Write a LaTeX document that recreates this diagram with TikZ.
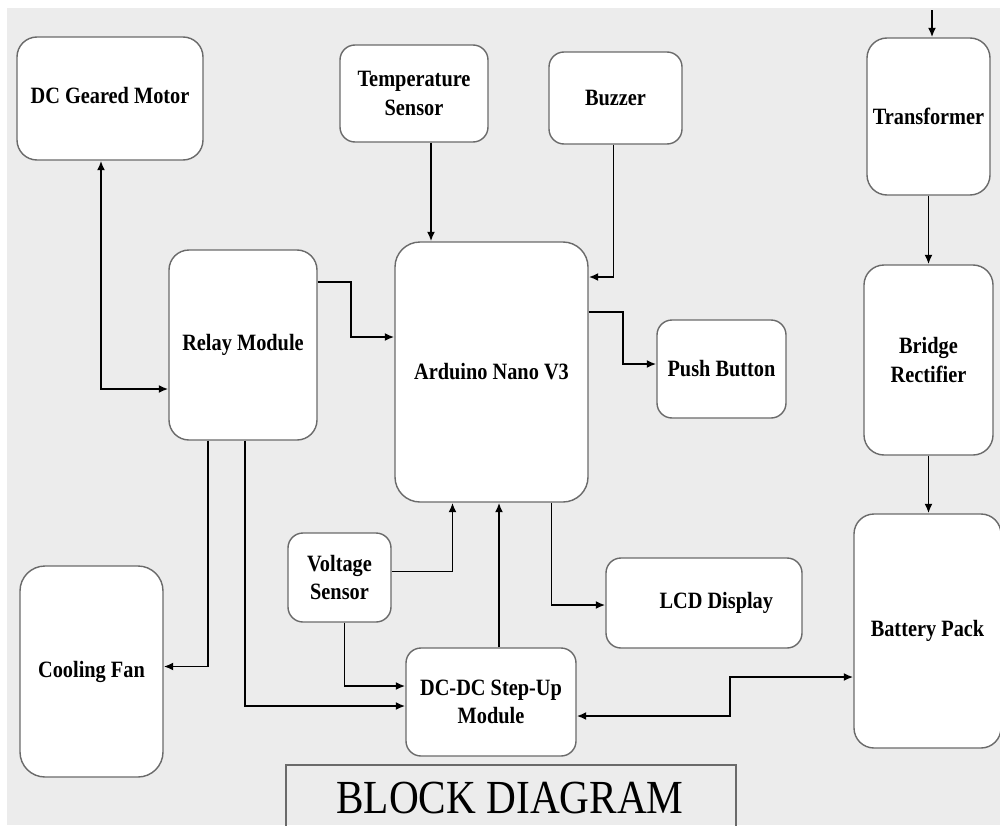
\documentclass[tikz,border=0pt]{standalone}
\usepackage{fontspec}
\setmainfont[FakeStretch=0.87]{Liberation Serif}
\usetikzlibrary{arrows.meta,calc}
\definecolor{bggray}{HTML}{ECECEC}
\definecolor{edgegray}{HTML}{6A6A6A}
\tikzset{
	blk/.style 2 args={draw=edgegray,line width=0.8pt,fill=white,rounded corners=4mm,align=center,
		font=\fontsize{13.3}{16}\selectfont\bfseries,inner sep=1pt,
		minimum width=#1*0.2mm,minimum height=#2*0.2mm},
	sblk/.style 2 args={blk={#1}{#2},rounded corners=3mm},
	wire/.style={line width=1.1pt,-{Latex[length=1.9mm,width=1.6mm]}},
	wire2/.style={line width=1.1pt,{Latex[length=1.9mm,width=1.6mm]}-{Latex[length=1.9mm,width=1.6mm]}}
}

\begin{document}
\begin{tikzpicture}[x=0.2mm,y=-0.2mm]
	\useasboundingbox (0,0) rectangle (1000,825);
	\fill[white] (0,0) rectangle (1000,825);
	\fill[bggray] (7,8) rectangle (1000,825);

	\node [blk={186}{123}] (motor) at (110,98.5) {\raisebox{1.2mm}{DC Geared Motor}};
	\node [sblk={148}{97}] (temp) at (414,93.5) {Temperature\\Sensor};
	\node [sblk={133}{92}] (buzzer) at (615.5,98) {Buzzer};
	\node [blk={123}{157}] (trans) at (928.5,116.5) {Transformer};
	\node [blk={148}{190}] (relay) at (243,345) {Relay Module};
	\node [blk={193}{260},rounded corners=5mm] (arduino) at (491.5,372) {Arduino Nano V3};
	\node [sblk={129}{98}] (push) at (721.5,369) {Push Button};
	\node [blk={129}{190}] (bridge) at (928.5,360) {Bridge\\Rectifier};
	\node [blk={147}{234}] (battery) at (927.5,631) {Battery Pack};
	\node [sblk={103}{89}] (voltage) at (339.5,577.5) {Voltage\\Sensor};
	\node [blk={143}{211},rounded corners=5mm] (fan) at (91.5,671.5) {Cooling Fan};
	\node [sblk={170}{108}] (dcdc) at (491,702) {DC-DC Step-Up\\Module};
	\node [sblk={196}{90}] (lcd) at (704,603) {\hspace*{14pt}LCD Display};

	\node [font=\fontsize{27}{30}\selectfont] (title) at (510,798) {BLOCK DIAGRAM};
	\draw[edgegray,line width=0.8pt] (286,830) -- (286,765) -- (736,765) -- (736,830);

	\coordinate (acin) at (932,10);
	\draw[wire] (acin) -- (acin |- trans.north);
	\draw[wire] (trans.south) -- (bridge.north);
	\draw[wire] (bridge.south) -- (bridge.south |- battery.north);

	\draw[wire2] ($(motor.south)+(-9,0)$) |- ($(relay.west)+(0,44)$);
	\draw[wire] ($(temp.south)+(17,0)$) coordinate (t) -- (t |- arduino.north);
	\draw[wire] ($(buzzer.south)+(-2,0)$) |- ($(arduino.east)+(0,-95)$);
	\draw[wire] ($(relay.east)+(0,-63)$) -- ++(33,0) |- ($(arduino.west)+(0,-35)$);
	\draw[wire] ($(arduino.east)+(0,-60)$) -- ++(34,0) |- ($(push.west)+(0,-5)$);
	\draw[wire] ($(relay.south)+(-35,0)$) |- ($(fan.east)+(0,-5)$);
	\draw[wire] ($(relay.south)+(2,0)$) |- ($(dcdc.west)+(0,4)$);
	\draw[wire] ($(voltage.east)+(0,-6)$) -| ($(arduino.south)+(-39,0)$);
	\draw[wire] ($(voltage.south)+(5,0)$) |- ($(dcdc.west)+(0,-16)$);
	\draw[wire] ($(dcdc.north)+(8,0)$) coordinate (d) -- (d |- arduino.south);
	\draw[wire] ($(arduino.south)+(60,0)$) |- ($(lcd.west)+(0,2)$);
	\draw[wire2] ($(dcdc.east)+(0,14)$) -- ++(153,0) |- ($(battery.west)+(0,46)$);
\end{tikzpicture}
\end{document}
